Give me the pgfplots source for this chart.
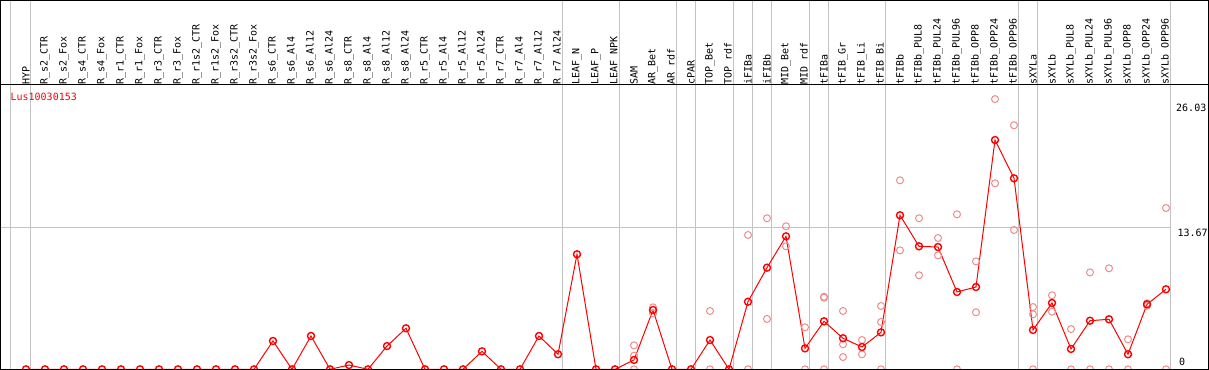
\documentclass[border=0pt]{standalone}
\usepackage{fontspec}
\setmainfont{DejaVu Sans Mono}
\usepackage{pgfplots}
\pgfplotsset{compat=1.18}
\definecolor{pinkrep}{RGB}{238,140,140}
\definecolor{sepgray}{RGB}{195,195,195}
\begin{document}
\begin{tikzpicture}
\begin{axis}[name=ax, scale only axis, width=1209pt, height=285pt,
  xmin=-1.3684, xmax=62.263, ymin=-0.067, ymax=27.39,
  axis line style={draw=none}, clip=false,
  xtick={0,...,60},
  xticklabels={HYP,R\_s2\_CTR,R\_s2\_Fox,R\_s4\_CTR,R\_s4\_Fox,R\_r1\_CTR,R\_r1\_Fox,R\_r3\_CTR,R\_r3\_Fox,R\_r1s2\_CTR,R\_r1s2\_Fox,R\_r3s2\_CTR,R\_r3s2\_Fox,R\_s6\_CTR,R\_s6\_Al4,R\_s6\_Al12,R\_s6\_Al24,R\_s8\_CTR,R\_s8\_Al4,R\_s8\_Al12,R\_s8\_Al24,R\_r5\_CTR,R\_r5\_Al4,R\_r5\_Al12,R\_r5\_Al24,R\_r7\_CTR,R\_r7\_Al4,R\_r7\_Al12,R\_r7\_Al24,LEAF\_N,LEAF\_P,LEAF\_NPK,SAM,AR\_Bet,AR\_rdf,cPAR,TOP\_Bet,TOP\_rdf,iFIBa,iFIBb,MID\_Bet,MID\_rdf,tFIBa,tFIB\_Gr,tFIB\_Li,tFIB\_Bi,tFIBb,tFIBb\_PUL8,tFIBb\_PUL24,tFIBb\_PUL96,tFIBb\_OPP8,tFIBb\_OPP24,tFIBb\_OPP96,sXYLa,sXYLb,sXYLb\_PUL8,sXYLb\_PUL24,sXYLb\_PUL96,sXYLb\_OPP8,sXYLb\_OPP24,sXYLb\_OPP96},
  xticklabel pos=upper,
  xticklabel style={rotate=90, anchor=west, inner sep=0pt, font=\fontsize{10}{12}\selectfont},
  major tick length=0pt, ytick=\empty,
]
% separators
\draw[sepgray, line width=1pt] (axis cs:-0.842,-1) -- (axis cs:-0.842,35.6);
\draw[sepgray, line width=1pt] (axis cs:0.247,-1) -- (axis cs:0.247,35.6);
\draw[sepgray, line width=1pt] (axis cs:28.247,-1) -- (axis cs:28.247,35.6);
\draw[sepgray, line width=1pt] (axis cs:31.247,-1) -- (axis cs:31.247,35.6);
\draw[sepgray, line width=1pt] (axis cs:34.247,-1) -- (axis cs:34.247,35.6);
\draw[sepgray, line width=1pt] (axis cs:35.247,-1) -- (axis cs:35.247,35.6);
\draw[sepgray, line width=1pt] (axis cs:37.247,-1) -- (axis cs:37.247,35.6);
\draw[sepgray, line width=1pt] (axis cs:38.247,-1) -- (axis cs:38.247,35.6);
\draw[sepgray, line width=1pt] (axis cs:39.247,-1) -- (axis cs:39.247,35.6);
\draw[sepgray, line width=1pt] (axis cs:41.247,-1) -- (axis cs:41.247,35.6);
\draw[sepgray, line width=1pt] (axis cs:42.247,-1) -- (axis cs:42.247,35.6);
\draw[sepgray, line width=1pt] (axis cs:45.247,-1) -- (axis cs:45.247,35.6);
\draw[sepgray, line width=1pt] (axis cs:52.247,-1) -- (axis cs:52.247,35.6);
\draw[sepgray, line width=1pt] (axis cs:53.247,-1) -- (axis cs:53.247,35.6);
\draw[sepgray, line width=1pt] (axis cs:60.247,-1) -- (axis cs:60.247,35.6);
\draw[sepgray, line width=1pt] (axis cs:-1.3684,13.67) -- (axis cs:60.247,13.67);

\addplot[only marks, mark=o, mark size=3.5pt, color=pinkrep, mark options={line width=1pt}] table {
x y
32 2.31
32 1.31
32 0
33 5.97
33 5.39
36 5.62
36 0
38 12.94
38 0
39 14.55
39 4.85
40 13.78
40 11.85
41 4.05
41 0
42 6.99
42 6.90
42 0
43 5.62
43 2.41
43 1.18
44 2.82
44 1.45
45 6.10
45 4.56
45 0
46 18.21
46 11.46
47 14.55
47 9.06
48 12.65
48 10.98
49 14.93
49 0
50 10.40
50 5.49
51 26.03
51 17.92
52 23.51
52 13.42
53 6.00
53 5.30
53 0
54 7.13
54 5.55
55 3.88
55 0
56 9.34
56 0
57 9.73
57 0
58 2.89
58 0
59 6.36
59 6.13
60 15.54
60 0
};

\addplot[red, line width=1pt, mark=o, mark size=3.5pt, mark options={line width=1.4pt}] table {
x y
0 0
1 0
2 0
3 0
4 0
5 0
6 0
7 0
8 0
9 0
10 0
11 0
12 0
13 2.73
14 0
15 3.21
16 0
17 0.41
18 0
19 2.24
20 3.95
21 0
22 0
23 0
24 1.73
25 0
26 0
27 3.21
28 1.45
29 11.08
30 0
31 0
32 0.90
33 5.71
34 0
35 0
36 2.82
37 0
38 6.51
39 9.79
40 12.81
41 2.02
42 4.62
43 2.99
44 2.15
45 3.56
46 14.84
47 11.85
48 11.78
49 7.45
50 7.93
51 22.09
52 18.40
53 3.79
54 6.39
55 1.96
56 4.68
57 4.82
58 1.45
59 6.26
60 7.71
};

\node[anchor=west, red, inner sep=0pt, font=\fontsize{10}{12}\selectfont] at (axis cs:-0.82,26.23) {Lus10030153};
\node[anchor=west, inner sep=0pt, font=\fontsize{10}{12}\selectfont] at (axis cs:60.526,25.22) {26.03};
\node[anchor=west, inner sep=0pt, font=\fontsize{10}{12}\selectfont] at (axis cs:60.6,13.18) {13.67};
\node[anchor=west, inner sep=0pt, font=\fontsize{10}{12}\selectfont] at (axis cs:60.68,0.70) {0};
\end{axis}
\draw[black, line width=1pt] ([shift={(0.5pt,0.5pt)}]ax.south west) rectangle ([shift={(-0.5pt,84.5pt)}]ax.north east);
\draw[black, line width=1pt] (ax.north west) -- (ax.north east);
\pgfresetboundingbox
\useasboundingbox (ax.south west) rectangle ([yshift=85pt]ax.north east);
\end{tikzpicture}
\end{document}
